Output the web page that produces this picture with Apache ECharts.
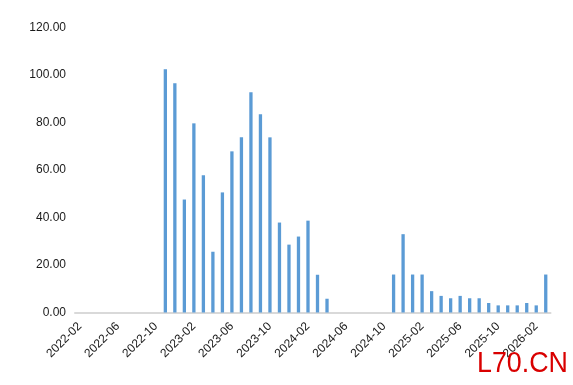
<!DOCTYPE html>
<html><head><meta charset="utf-8">
<script src="https://cdn.jsdelivr.net/npm/echarts@6/dist/echarts.min.js"></script>
<style>html,body{margin:0;padding:0;background:#fff}#c{width:573px;height:385px}</style>
</head><body><div id="c"></div>
<script>
var categories = [];
(function(){var y=2022,m=2;for(var i=0;i<50;i++){categories.push(y+'-'+(m<10?'0'+m:m));m++;if(m>12){m=1;y++;}}})();
var values = [
  null,null,null,null,null,null,null,null,null,
  102.5,96.6,47.6,79.7,57.8,25.6,50.6,67.9,73.8,92.8,83.5,73.8,37.9,28.6,32,38.7,15.9,5.8,
  null,null,null,null,null,null,
  16,33,16,16,9,7,6,7,6,6,4,3,3,3,4,3,16
];
var yTicks = [0,20,40,60,80,100,120];
var chart = echarts.init(document.getElementById('c'));
chart.setOption({
  animation:false,
  grid:{left:75,right:22.5,top:27.7,bottom:72.5,containLabel:false,outerBoundsMode:'none'},
  xAxis:{type:'category',data:categories,boundaryGap:true,
    axisLine:{lineStyle:{color:'#d9d9d9',width:2}},
    axisTick:{interval:3,length:4,lineStyle:{color:'#d9d9d9',width:2}},
    axisLabel:{interval:3,rotate:45,margin:12,fontSize:12,color:'#1a1a1a',fontFamily:'Liberation Sans'}},
  yAxis:{type:'value',min:yTicks[0],max:yTicks[yTicks.length-1],interval:20,
    axisLine:{show:false},axisTick:{show:false},splitLine:{show:false},
    axisLabel:{margin:9,fontSize:12,color:'#1a1a1a',fontFamily:'Liberation Sans',formatter:function(v){return v.toFixed(2);}}},
  series:[{type:'bar',data:values,barWidth:3.3,itemStyle:{color:'#5b9bd5'}}],
  graphic:[{type:'text',x:477,y:349,scaleX:0.925,z:100,style:{text:'L70.CN',fill:'#d90000',font:'29px "Liberation Sans", Arial, sans-serif'}}]
});
</script></body></html>
